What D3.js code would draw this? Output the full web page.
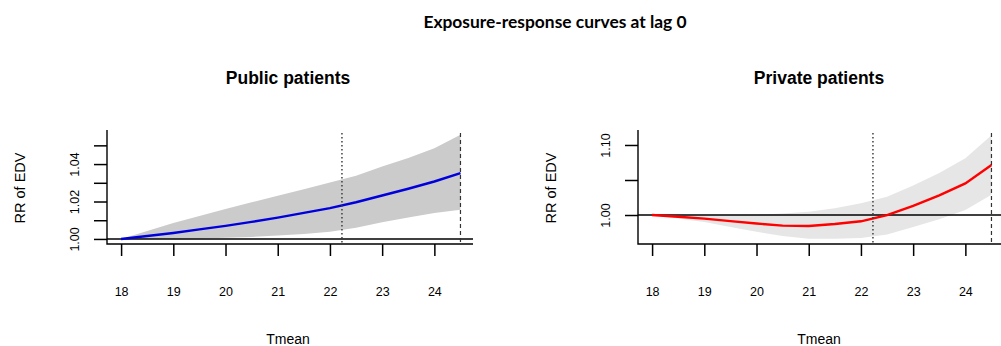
<!DOCTYPE html>
<html>
<head>
<meta charset="utf-8">
<script src="https://cdn.jsdelivr.net/npm/d3@7"></script>
<style>
  body { margin: 0; background: #fff; }
  svg { display: block; }
  text { font-family: "Liberation Sans", Arial, sans-serif; fill: #000; }
</style>
</head>
<body>
<svg id="chart" width="1001" height="346"></svg>
<script>
// temperature grid (Tmean)
var tmean = [18, 18.5, 19, 19.5, 20, 20.5, 21, 21.5, 22, 22.5, 23, 23.5, 24, 24.5];

// public patients: RR and 95% CI
var publicFit  = [1.0000, 1.0016, 1.0032, 1.0051, 1.0070, 1.0091, 1.0114, 1.0139, 1.0165, 1.0196, 1.0232, 1.0268, 1.0307, 1.0352];
var publicLow  = [1.0000, 1.0000, 1.0001, 1.0003, 1.0006, 1.0011, 1.0018, 1.0027, 1.0038, 1.0060, 1.0089, 1.0115, 1.0139, 1.0156];
var publicHigh = [1.0000, 1.0043, 1.0085, 1.0122, 1.0160, 1.0196, 1.0231, 1.0265, 1.0302, 1.0337, 1.0387, 1.0432, 1.0485, 1.0556];

// private patients: RR and 95% CI
var privateFit  = [1.0000, 0.9975, 0.9948, 0.9912, 0.9879, 0.9848, 0.9843, 0.9871, 0.9910, 0.9998, 1.0129, 1.0280, 1.0452, 1.0714];
var privateLow  = [1.0000, 0.9950, 0.9900, 0.9830, 0.9760, 0.9700, 0.9660, 0.9660, 0.9670, 0.9720, 0.9830, 0.9940, 1.0070, 1.0290];
var privateHigh = [1.0000, 0.9995, 0.9990, 0.9995, 1.0005, 1.0020, 1.0048, 1.0095, 1.0167, 1.0260, 1.0420, 1.0600, 1.0810, 1.1140];

// reference temperatures (vertical lines)
var dottedAt = 22.23;
var dashedAt = 24.5;

var xTicks = [18, 19, 20, 21, 22, 23, 24];
var publicYTicks = [1.00, 1.01, 1.02, 1.03, 1.04, 1.05];
var publicYLabels = [1.00, 1.02, 1.04];
var privateYTicks = [1.00, 1.05, 1.10];
var privateYLabels = [1.00, 1.10];

var svg = d3.select("#chart");

svg.append("text")
	.attr("x", 555).attr("y", 28)
	.attr("text-anchor", "middle")
	.style("font-family", "Lato, 'Open Sans', sans-serif")
	.style("font-weight", "bold")
	.style("font-size", "17.4px")
	.text("Exposure-response curves at lag 0");

function panel(opt){
	var g = svg.append("g");
	var x = d3.scaleLinear().domain([17.73, 24.74]).range([opt.left, opt.left + 366]);
	var y = d3.scaleLinear().domain(opt.ydom).range([244, 130]);
	var top = 130, bottom = 244, right = opt.left + 366;

	var rows = tmean.map(function(t, i){
		return { t: t, fit: opt.fit[i], lo: opt.low[i], hi: opt.high[i] };
	});

	// confidence band
	g.append("path")
		.datum(rows)
		.attr("fill", opt.band)
		.attr("d", d3.area()
			.x(function(d){ return x(d.t); })
			.y0(function(d){ return y(d.lo); })
			.y1(function(d){ return y(d.hi); }));

	// reference line at RR = 1
	g.append("line")
		.attr("x1", opt.left).attr("x2", right)
		.attr("y1", y(1)).attr("y2", y(1))
		.attr("stroke", "#000").attr("stroke-width", 1.6);

	// fitted curve
	g.append("path")
		.datum(rows)
		.attr("fill", "none")
		.attr("stroke", opt.color)
		.attr("stroke-width", 2.4)
		.attr("d", d3.line()
			.x(function(d){ return x(d.t); })
			.y(function(d){ return y(d.fit); }));

	// vertical dotted / dashed lines
	g.append("line")
		.attr("x1", x(dottedAt)).attr("x2", x(dottedAt))
		.attr("y1", top + 3).attr("y2", bottom)
		.attr("stroke", "#333").attr("stroke-width", 1.4)
		.attr("stroke-dasharray", "1.4,2.6");
	g.append("line")
		.attr("x1", x(dashedAt)).attr("x2", x(dashedAt))
		.attr("y1", top + 3).attr("y2", bottom)
		.attr("stroke", "#333").attr("stroke-width", 1.2)
		.attr("stroke-dasharray", "4,3");

	// L-shaped box
	g.append("path")
		.attr("d", "M" + opt.left + "," + top + "V" + bottom + "H" + right)
		.attr("fill", "none").attr("stroke", "#000").attr("stroke-width", 1.4);

	// x axis
	var xa = g.append("g")
		.attr("transform", "translate(0," + bottom + ")")
		.call(d3.axisBottom(x).tickValues(xTicks).tickSize(12).tickPadding(31).tickFormat(d3.format("d")));
	xa.select(".domain").remove();
	xa.selectAll("line").attr("stroke", "#000").attr("stroke-width", 1.5);
	xa.selectAll("text").style("font-size", "12.5px").attr("fill", "#000");

	// y axis
	var ya = g.append("g")
		.attr("transform", "translate(" + opt.left + ",0)")
		.call(d3.axisLeft(y).tickValues(opt.yticks).tickSize(13).tickFormat(function(d){
			return opt.ylabels.some(function(v){ return Math.abs(v - d) < 1e-9; }) ? d.toFixed(2) : "";
		}));
	ya.select(".domain").remove();
	ya.selectAll("line").attr("stroke", "#000").attr("stroke-width", 1.5);
	ya.selectAll("text")
		.attr("x", null).attr("dy", null)
		.attr("text-anchor", "middle")
		.attr("transform", "translate(-28,0) rotate(-90)")
		.style("font-size", "12.5px")
		.attr("fill", "#000");

	// labels
	var cx = (opt.left + right) / 2 - 2;
	g.append("text")
		.attr("x", cx).attr("y", 84)
		.attr("text-anchor", "middle")
		.style("font-size", "17.5px").style("font-weight", "bold")
		.text(opt.title);
	g.append("text")
		.attr("x", cx).attr("y", 344)
		.attr("text-anchor", "middle")
		.style("font-size", "14px")
		.text("Tmean");
	g.append("text")
		.attr("transform", "translate(" + (opt.left - 82) + "," + 188 + ") rotate(-90)")
		.attr("text-anchor", "middle")
		.style("font-size", "14.5px")
		.text("RR of EDV");
}

panel({
	left: 107, title: "Public patients", ydom: [0.9973, 1.0582],
	fit: publicFit, low: publicLow, high: publicHigh,
	color: "#0000dd", band: "#cbcbcb",
	yticks: publicYTicks, ylabels: publicYLabels
});
panel({
	left: 638, title: "Private patients", ydom: [0.9586, 1.1214],
	fit: privateFit, low: privateLow, high: privateHigh,
	color: "#ff0000", band: "#e6e6e6",
	yticks: privateYTicks, ylabels: privateYLabels
});
</script>
</body>
</html>
